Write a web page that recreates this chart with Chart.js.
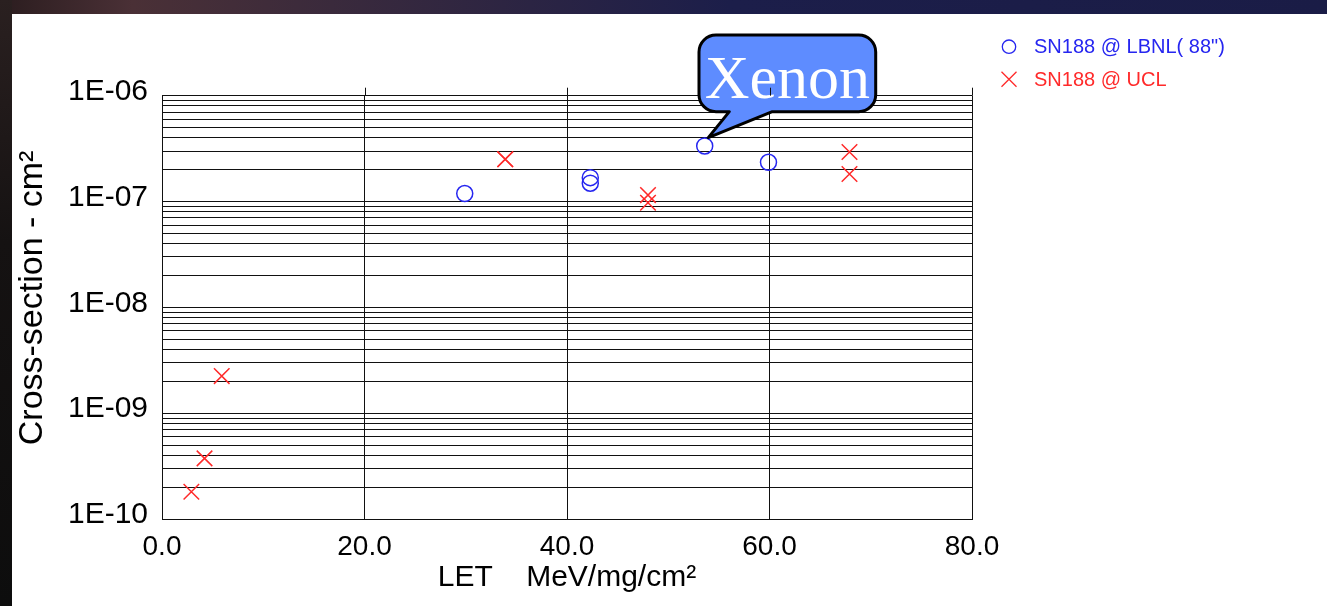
<!DOCTYPE html>
<html>
<head>
<meta charset="utf-8">
<script src="https://cdn.jsdelivr.net/npm/chart.js@4.4.1/dist/chart.umd.min.js"></script>
<style>
  html, body { margin: 0; padding: 0; }
  body {
    width: 1327px; height: 606px; overflow: hidden; position: relative;
    background: linear-gradient(90deg, #2b1d1f 0%, #4a3036 10%, #3a2a3c 25%, #1c1e4a 55%, #1a1c46 100%);
  }
  #leftStrip {
    position: absolute; left: 0; top: 0; width: 12px; height: 606px;
    background: linear-gradient(180deg, #2a2020 0%, #151212 40%, #0d0d0d 100%);
  }
  #panel {
    position: absolute; left: 12px; top: 14px; width: 1315px; height: 592px; background: #fff;
  }
</style>
</head>
<body>
<div id="leftStrip"></div>
<div id="panel"><canvas id="chart" width="1315" height="592"></canvas></div>
<script>
// LET (MeV/mg/cm2) and cross-section (cm2)
const lbnlLET  = [29.9, 42.3, 42.3, 53.6, 59.9];
const lbnlXsec = [1.19e-7, 1.68e-7, 1.49e-7, 3.35e-7, 2.35e-7];

const uclLET  = [2.9, 4.2, 5.9, 33.9, 33.9, 48.0, 48.0, 67.9, 67.9];
const uclXsec = [1.81e-10, 3.74e-10, 2.24e-9, 2.51e-7, 2.51e-7, 1.15e-7, 9.74e-8, 2.94e-7, 1.82e-7];

const seriesNames = ['SN188 @ LBNL( 88")', 'SN188 @ UCL'];

const xTicks = [0, 20, 40, 60, 80];
const xTickLabels = ['0.0', '20.0', '40.0', '60.0', '80.0'];
const yDecades = [1e-10, 1e-9, 1e-8, 1e-7, 1e-6];
const yTickLabels = ['1E-10', '1E-09', '1E-08', '1E-07', '1E-06'];

const xTitle = 'LET    MeV/mg/cm²';
const yTitle = '  Cross-section - cm²';

const calloutText = 'Xenon';
const calloutIndex = 3; // LBNL point the bubble points at

const toPoints = (xs, ys) => xs.map((x, i) => ({ x: x, y: ys[i] }));

// vertical grid lines poke a little above the top of the plot
const gridStubs = {
  id: 'gridStubs',
  afterDraw(chart) {
    const { ctx, chartArea } = chart;
    const xs = chart.scales.x;
    ctx.save();
    ctx.strokeStyle = '#111';
    ctx.lineWidth = 1;
    xTicks.forEach(v => {
      if (v === xTicks[0]) return;
      const px = Math.round(xs.getPixelForValue(v)) + 0.5;
      ctx.beginPath();
      ctx.moveTo(px, chartArea.top - 8);
      ctx.lineTo(px, chartArea.top);
      ctx.stroke();
    });
    ctx.restore();
  }
};

// legend on the right, outside the plot
const sideLegend = {
  id: 'sideLegend',
  afterDraw(chart) {
    const { ctx, chartArea } = chart;
    const mx = chartArea.right + 37;
    const tx = chartArea.right + 62;
    const rows = [chartArea.top - 49, chartArea.top - 16.5];
    ctx.save();
    ctx.font = '20px "Liberation Sans", Arial, sans-serif';
    ctx.textBaseline = 'middle';
    ctx.textAlign = 'left';
    chart.data.datasets.forEach((ds, i) => {
      const y = rows[i];
      ctx.strokeStyle = ds.borderColor;
      ctx.fillStyle = ds.borderColor;
      ctx.lineWidth = 1.3;
      ctx.beginPath();
      if (ds.pointStyle === 'circle') {
        ctx.arc(mx, y, 6.7, 0, Math.PI * 2);
      } else {
        ctx.moveTo(mx - 7.5, y - 7.5); ctx.lineTo(mx + 7.5, y + 7.5);
        ctx.moveTo(mx + 7.5, y - 7.5); ctx.lineTo(mx - 7.5, y + 7.5);
      }
      ctx.stroke();
      ctx.fillText(ds.label, tx, y + 1);
    });
    ctx.restore();
  }
};

// speech bubble pointing at the xenon point
const xenonCallout = {
  id: 'xenonCallout',
  afterDatasetsDraw(chart) {
    const p = chart.getDatasetMeta(0).data[calloutIndex];
    if (!p) return;
    const { ctx } = chart;
    const tx = p.x + 3.6, ty = p.y - 8.3;
    const L = tx - 9.3, R = tx + 167.4, T = ty - 102.7, B = ty - 26;
    const r = 17;
    ctx.save();
    ctx.beginPath();
    ctx.moveTo(L + r, T);
    ctx.arcTo(R, T, R, B, r);
    ctx.arcTo(R, B, L, B, r);
    ctx.lineTo(tx + 64, B);
    ctx.lineTo(tx, ty);
    ctx.lineTo(tx + 21, B);
    ctx.arcTo(L, B, L, T, r);
    ctx.arcTo(L, T, R, T, r);
    ctx.closePath();
    ctx.fillStyle = '#5e8cff';
    ctx.fill();
    ctx.lineJoin = 'round';
    ctx.lineWidth = 3;
    ctx.strokeStyle = '#000';
    ctx.stroke();
    ctx.fillStyle = '#fff';
    ctx.font = '62px "Liberation Serif", "Times New Roman", serif';
    ctx.textAlign = 'center';
    ctx.textBaseline = 'alphabetic';
    ctx.fillText(calloutText, (L + R) / 2, T + 63);
    ctx.restore();
  }
};

const sans = '"Liberation Sans", Arial, sans-serif';

new Chart(document.getElementById('chart'), {
  type: 'scatter',
  data: {
    datasets: [
      {
        label: seriesNames[0],
        data: toPoints(lbnlLET, lbnlXsec),
        pointStyle: 'circle',
        pointRadius: 8,
        pointBorderWidth: 1.5,
        borderColor: '#2626f0',
        backgroundColor: 'rgba(0,0,0,0)'
      },
      {
        label: seriesNames[1],
        data: toPoints(uclLET, uclXsec),
        pointStyle: 'crossRot',
        pointRadius: 11,
        pointBorderWidth: 1.5,
        borderColor: '#ff2a2a',
        backgroundColor: 'rgba(0,0,0,0)'
      }
    ]
  },
  options: {
    responsive: false,
    animation: false,
    events: [],
    layout: { padding: { top: 81.7, right: 355, bottom: 0, left: 0 } },
    plugins: {
      legend: { display: false },
      tooltip: { enabled: false }
    },
    scales: {
      x: {
        type: 'linear',
        min: xTicks[0],
        max: xTicks[xTicks.length - 1],
        afterBuildTicks: scale => { scale.ticks = xTicks.map(v => ({ value: v })); },
        afterFit: scale => { scale.height = 87; },
        ticks: {
          autoSkip: false,
          maxRotation: 0,
          padding: 11,
          color: '#000',
          font: { family: sans, size: 28 },
          callback: v => xTickLabels[xTicks.indexOf(v)]
        },
        grid: { color: '#111', lineWidth: 1, drawTicks: false },
        border: { display: true, color: '#111', width: 1 },
        title: {
          display: true,
          text: xTitle,
          color: '#000',
          font: { family: sans, size: 30 },
          padding: { top: 0, bottom: 10 }
        }
      },
      y: {
        type: 'logarithmic',
        min: yDecades[0],
        max: yDecades[yDecades.length - 1],
        afterBuildTicks: scale => {
          const t = [];
          yDecades.forEach((d, i) => {
            t.push({ value: d });
            if (i < yDecades.length - 1) {
              for (let m = 2; m <= 9; m++) t.push({ value: d * m });
            }
          });
          scale.ticks = t;
        },
        afterFit: scale => { scale.width = 150; },
        ticks: {
          autoSkip: false,
          padding: 14,
          labelOffset: -4,
          color: '#000',
          font: { family: sans, size: 30 },
          callback: v => {
            const i = yDecades.findIndex(d => Math.abs(d - v) / d < 1e-6);
            return i >= 0 ? yTickLabels[i] : '';
          }
        },
        grid: { color: '#111', lineWidth: 1, drawTicks: false },
        border: { display: true, color: '#111', width: 1 },
        title: {
          display: true,
          text: yTitle,
          color: '#000',
          font: { family: sans, size: 34 },
          padding: { top: 0, bottom: 0 }
        }
      }
    }
  },
  plugins: [gridStubs, xenonCallout, sideLegend]
});
</script>
</body>
</html>
